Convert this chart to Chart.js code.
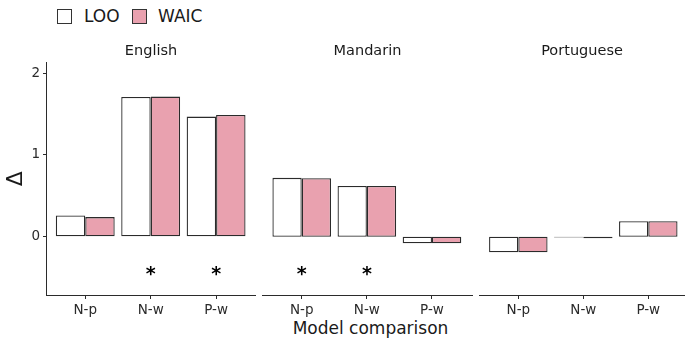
<!DOCTYPE html>
<html><head><meta charset="utf-8">
<script src="https://cdn.jsdelivr.net/npm/chart.js@4.4.0/dist/chart.umd.min.js"></script>
<style>
html,body{margin:0;padding:0;background:#fff;}
body{width:685px;height:338px;position:relative;overflow:hidden;font-family:"DejaVu Sans",sans-serif;color:#1a1a1a;}
canvas{position:absolute;top:0;}
.box{position:absolute;top:9px;width:13px;height:13px;border:1px solid #333;}
.lt{position:absolute;top:8px;font-size:17px;line-height:17px;white-space:nowrap;}
#xt{position:absolute;left:270px;width:201px;top:320px;font-size:17px;line-height:17px;text-align:center;white-space:nowrap;}
</style></head><body>
<div class="box" style="left:57px;background:#ffffff"></div>
<div class="lt" id="l1" style="left:84px"></div>
<div class="box" style="left:132px;background:#E9A1AF"></div>
<div class="lt" id="l2" style="left:158px"></div>
<div id="xt"></div>
<canvas id="c1" width="256" height="338" style="left:0px"></canvas>
<canvas id="c2" width="211" height="338" style="left:262px"></canvas>
<canvas id="c3" width="206" height="338" style="left:479px"></canvas>
<script>
const categories = ['N-p', 'N-w', 'P-w'];
const panels = ['English', 'Mandarin', 'Portuguese'];
const seriesNames = ['LOO', 'WAIC'];
const looEnglish = [0.26, 1.71, 1.47];
const waicEnglish = [0.24, 1.715, 1.49];
const looMandarin = [0.72, 0.62, -0.08];
const waicMandarin = [0.715, 0.62, -0.08];
const looPortuguese = [-0.19, -0.01, 0.19];
const waicPortuguese = [-0.19, -0.02, 0.19];
const sigEnglish = [false, true, true];
const sigMandarin = [true, true, false];
const sigPortuguese = [false, false, false];
const starValue = -0.42;
const yTicks = [0, 1, 2];
const yTitle = 'Δ';
const xTitle = 'Model comparison';

document.getElementById('l1').textContent = seriesNames[0];
document.getElementById('l2').textContent = seriesNames[1];
document.getElementById('xt').textContent = xTitle;

const FONT = '"DejaVu Sans", sans-serif';
const INK = '#2b2b2b';
const PINK = '#E9A1AF';

const starPlugin = {
  id: 'stars',
  afterDatasetsDraw(chart, args, opts) {
    const ctx = chart.ctx;
    const xs = chart.scales.x, ys = chart.scales.y;
    ctx.save();
    ctx.fillStyle = '#000';
    ctx.font = 'bold 19px ' + FONT;
    ctx.textAlign = 'center';
    ctx.textBaseline = 'alphabetic';
    (opts.sig || []).forEach((s, i) => {
      if (!s) return;
      const px = xs.getPixelForValue(i + 1);
      const py = ys.getPixelForValue(starValue);
      ctx.fillText('*', px, py + 9);
    });
    ctx.restore();
  }
};

function makePanel(id, title, loo, waic, sig, showY, xMin, xMax) {
  const tickFont = {family: FONT, size: 13.5};
  new Chart(document.getElementById(id), {
    type: 'bar',
    data: {
      datasets: [
        {label: seriesNames[0], data: loo.map((v, i) => ({x: i + 1, y: v})), backgroundColor: '#ffffff'},
        {label: seriesNames[1], data: waic.map((v, i) => ({x: i + 1, y: v})), backgroundColor: PINK}
      ]
    },
    plugins: [starPlugin],
    options: {
      responsive: false,
      animation: false,
      datasets: {bar: {barPercentage: 1, categoryPercentage: 0.9, borderWidth: 1.3, borderColor: INK, borderSkipped: false}},
      layout: {padding: {top: 40, left: 0, right: 0, bottom: 0}},
      plugins: {
        legend: {display: false},
        tooltip: {enabled: false},
        stars: {sig: sig},
        title: {display: true, text: title, fullSize: false, color: '#1a1a1a',
          font: {family: FONT, size: 14.5, weight: 'normal'}, padding: {top: 2.8, bottom: 2.5}}
      },
      scales: {
        x: {
          type: 'linear', min: xMin, max: xMax, offset: false,
          afterBuildTicks: s => { s.ticks = categories.map((c, i) => ({value: i + 1})); },
          afterFit: s => { s.height = 43; },
          ticks: {callback: (v, i) => categories[i], font: tickFont, color: INK, padding: 3, maxRotation: 0, autoSkip: false},
          grid: {display: true, offset: false, drawOnChartArea: false, drawTicks: true, tickLength: 4, color: INK, lineWidth: 1},
          border: {display: true, color: INK, width: 1}
        },
        y: {
          display: showY, min: -0.714, max: 2.13,
          afterBuildTicks: s => { s.ticks = yTicks.map(v => ({value: v})); },
          afterFit: s => { s.width = showY ? 46 : 0; },
          ticks: {callback: v => String(v), font: tickFont, color: INK, padding: 3},
          grid: {display: true, drawOnChartArea: false, drawTicks: true, tickLength: 3, color: INK, lineWidth: 1},
          border: {display: true, color: INK, width: 1},
          title: {display: true, text: yTitle, color: '#1a1a1a', font: {family: FONT, size: 22}, padding: {top: 3, bottom: 0}}
        }
      }
    }
  });
}

makePanel('c1', panels[0], looEnglish, waicEnglish, sigEnglish, true, 0.4, 3.61);
makePanel('c2', panels[1], looMandarin, waicMandarin, sigMandarin, false, 0.39, 3.63);
makePanel('c3', panels[2], looPortuguese, waicPortuguese, sigPortuguese, false, 0.395, 3.565);
</script>
</body></html>
